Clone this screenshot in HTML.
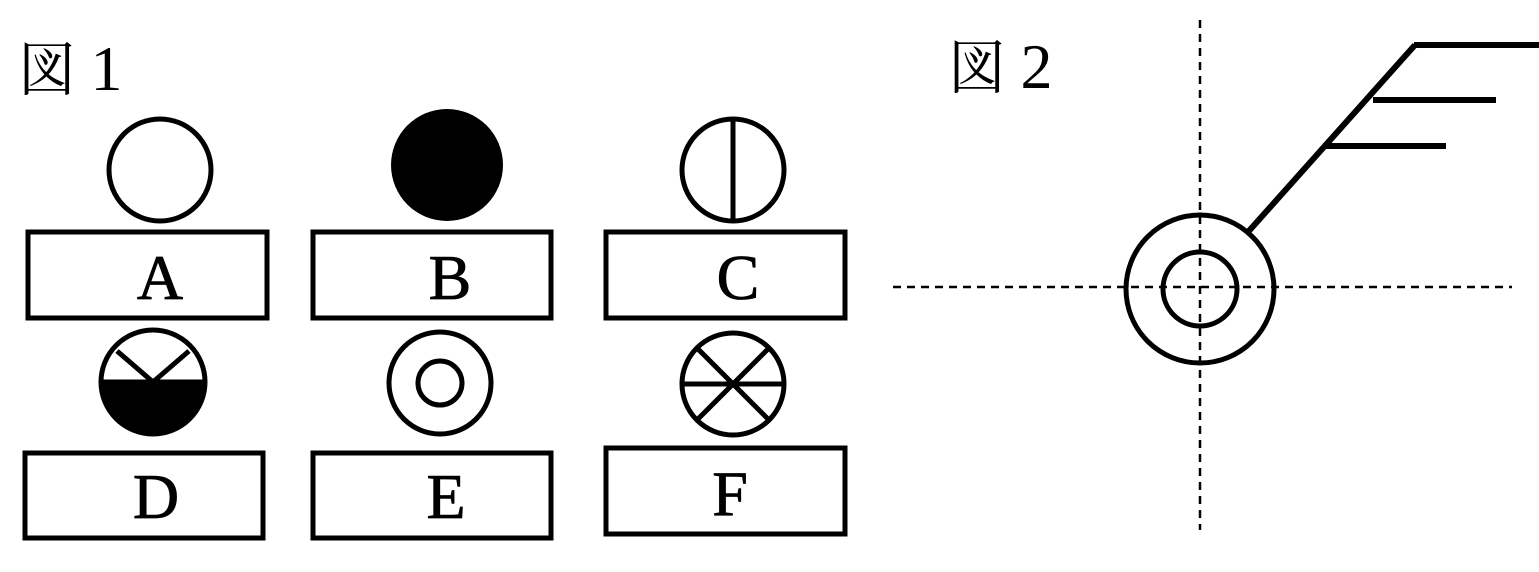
<!DOCTYPE html>
<html><head><meta charset="utf-8"><style>html,body{margin:0;padding:0;background:#fff;}svg{display:block}</style></head>
<body>
<svg width="1539" height="572" viewBox="0 0 1539 572" xmlns="http://www.w3.org/2000/svg">
<g font-family="'Liberation Serif','Noto Serif CJK SC',serif" font-size="58" fill="#000">
<text x="18" y="90">図 <tspan font-size="64">1</tspan></text>
<text x="948" y="88">図 <tspan font-size="64">2</tspan></text>
</g>
<g fill="none" stroke="#000" stroke-width="5">
<circle cx="160" cy="170" r="51"/>
<circle cx="733" cy="170" r="51"/>
<line x1="733" y1="119" x2="733" y2="221"/>
<rect x="28" y="232" width="239" height="86"/>
<rect x="313" y="232" width="238" height="86"/>
<rect x="606" y="232" width="239" height="86"/>
<circle cx="440" cy="383" r="51"/>
<circle cx="440" cy="383" r="22"/>
<circle cx="733" cy="384" r="51"/>
<line x1="682" y1="384" x2="784" y2="384"/>
<line x1="697" y1="348" x2="769" y2="420"/>
<line x1="769" y1="348" x2="697" y2="420"/>
<rect x="25" y="453" width="238" height="85"/>
<rect x="313" y="453" width="238" height="85"/>
<rect x="606" y="448" width="239" height="86"/>
</g>
<circle cx="447" cy="165" r="56" fill="#000"/>
<path d="M99 382 A54 54 0 0 0 207 382 Z" fill="#000"/>
<g fill="none" stroke="#000" stroke-width="5">
<circle cx="153" cy="382" r="52"/>
<line x1="101" y1="382" x2="205" y2="382"/>
<line x1="117" y1="351" x2="153" y2="382"/>
<line x1="189" y1="351" x2="153" y2="382"/>
</g>
<g font-family="'Liberation Serif',serif" font-size="64" fill="#000" text-anchor="middle" stroke="#000" stroke-width="0.8">
<text x="160" y="299">A</text>
<text x="450" y="299">B</text>
<text x="738" y="299">C</text>
<text x="156" y="518">D</text>
<text x="446" y="518">E</text>
<text x="730" y="515">F</text>
</g>
<g stroke="#000" stroke-width="2.5" stroke-dasharray="8,6">
<line x1="1200" y1="20" x2="1200" y2="530"/>
<line x1="893" y1="287" x2="1512" y2="287"/>
</g>
<g fill="none" stroke="#000" stroke-width="5">
<circle cx="1200" cy="289" r="74"/>
<circle cx="1200" cy="289" r="37"/>
</g>
<g stroke="#000" stroke-width="6">
<line x1="1248" y1="232" x2="1415" y2="45"/>
<line x1="1414" y1="45" x2="1539" y2="45"/>
<line x1="1373" y1="100" x2="1496" y2="100"/>
<line x1="1323" y1="146" x2="1446" y2="146"/>
</g>
</svg>
</body></html>
